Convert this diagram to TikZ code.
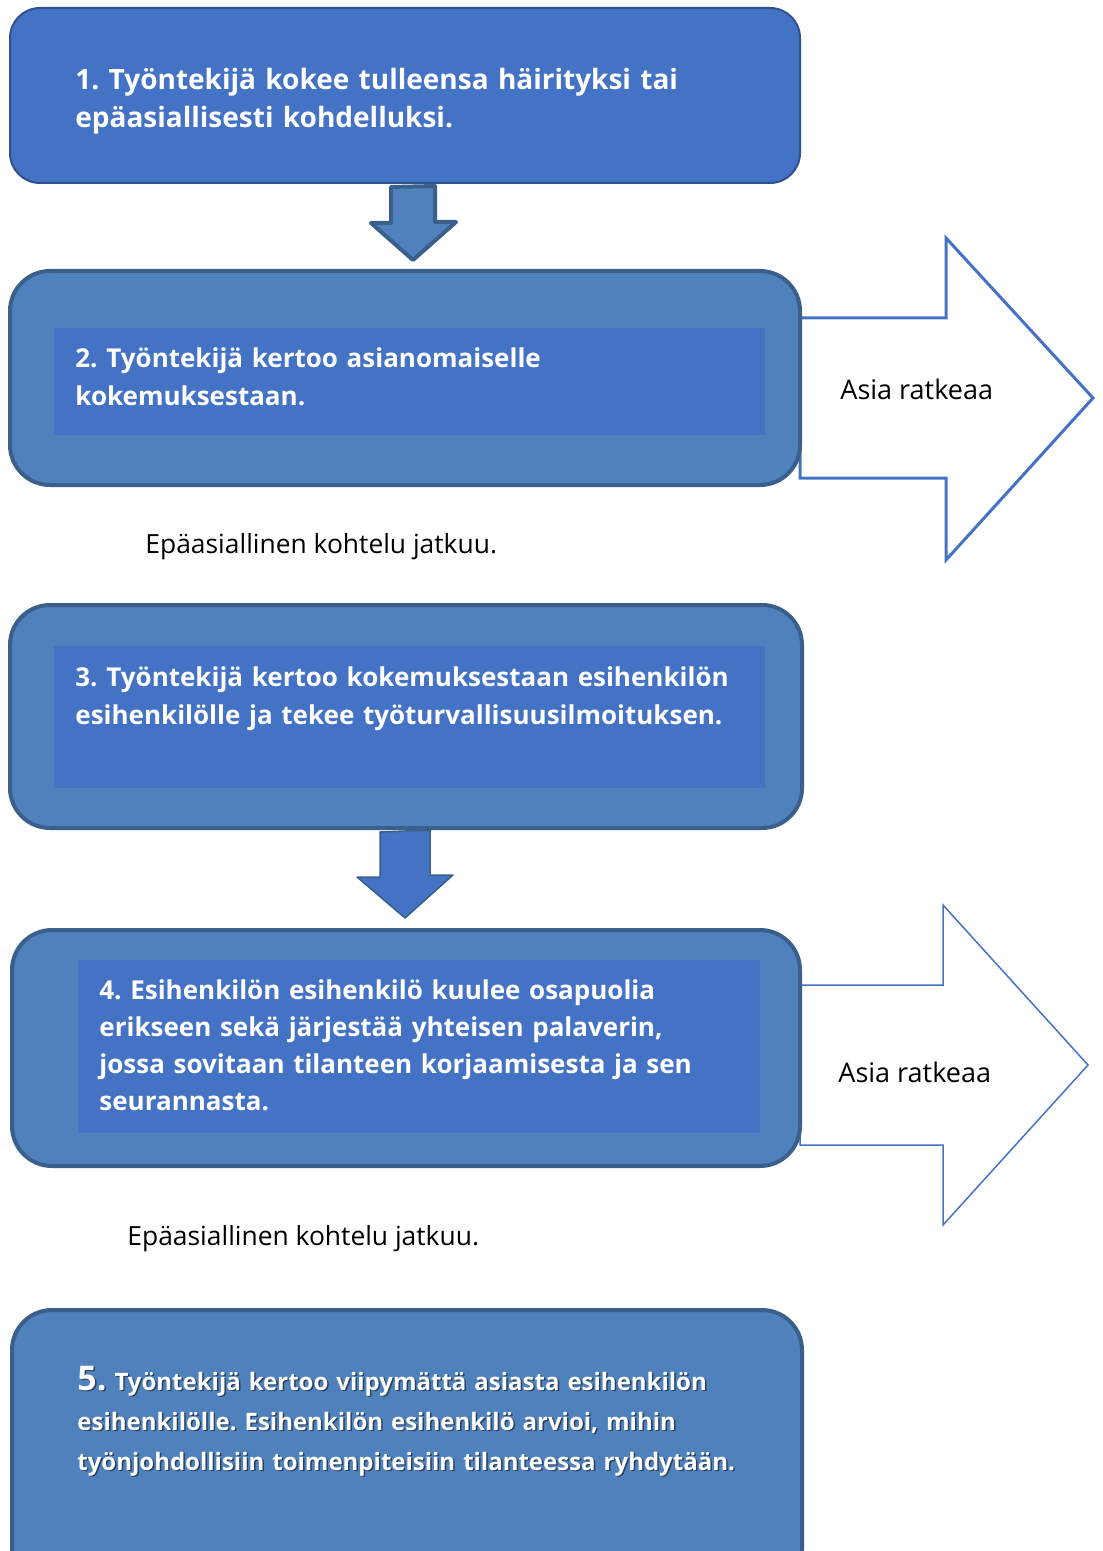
\documentclass[tikz,border=0pt]{standalone}
\usepackage{fontspec}
\setmainfont{Open Sans}
\usepackage{xcolor}
\usetikzlibrary{positioning}
\frenchspacing
\hyphenpenalty=10000
\definecolor{boxblue}{HTML}{4472C4}
\definecolor{outerblue}{HTML}{4F81BD}
\definecolor{edgeblue}{HTML}{3A5F8B}
\definecolor{darkedge}{HTML}{2F528F}
\newcommand{\stepfivetext}{{\fontsize{17}{20}\selectfont 5.} Työntekijä kertoo viipymättä asiasta esihenkilön\\ esihenkilölle. Esihenkilön esihenkilö arvioi, mihin\\ työnjohdollisiin toimenpiteisiin tilanteessa ryhdytään.}

\begin{document}
\begin{tikzpicture}[x=0.5pt,y=-0.5pt,
            outer/.style={shape=rectangle, draw=edgeblue, line width=2pt, fill=outerblue, rounded corners=20pt, inner sep=0pt},
            inner/.style={shape=rectangle, fill=boxblue, inner sep=0pt},
            steptext/.style={anchor=base west, inner sep=0pt, text=white, align=left, text width=420pt,
              font=\bfseries\fontsize{13}{19}\selectfont},
            plain/.style={anchor=base west, inner sep=0pt, font=\fontsize{13.5}{16}\selectfont},
            downarrow/.style={draw=edgeblue, line width=2pt, line join=round, fill=outerblue},
            rightarrow/.style={draw=boxblue, line width=1.5pt, fill=white}]
				\useasboundingbox (0,0) rectangle (1102,1551);

				% arrows to the right
				\draw[rightarrow] (800,318) -- (946,318) -- (946,238) -- (1093,398) -- (946,560) -- (946,478) -- (800,478) -- cycle;
				\draw[rightarrow, line width=0.75pt] (800,985) -- (943,985) -- (943,905) -- (1088,1065) -- (943,1225) -- (943,1145) -- (800,1145) -- cycle;
				\node[plain] (solve1) at (840,400) {Asia ratkeaa};
				\node[plain] (solve2) at (838,1082) {Asia ratkeaa};

				% boxes
				\node[outer, fill=boxblue, draw=darkedge, line width=1pt, rounded corners=15pt,
				      minimum width=395pt, minimum height=87.5pt] (box1) at (405,95.5) {};
				\node[outer, minimum width=395pt, minimum height=107pt] (box2) at (405,378) {};
				\node[inner, minimum width=355.5pt, minimum height=53.5pt] (in2) at (409.5,381.5) {};
				\node[outer, minimum width=396pt, minimum height=111.5pt] (box3) at (406,716.5) {};
				\node[inner, minimum width=355.5pt, minimum height=71pt] (in3) at (409.5,717) {};
				\node[outer, minimum width=394pt, minimum height=118pt] (box4) at (406,1048) {};
				\node[inner, minimum width=341pt, minimum height=86.5pt] (in4) at (419,1046.5) {};
				\node[outer, minimum width=395pt, minimum height=140pt] (box5) at (407,1450) {};

				% down arrows
				\coordinate (tip1) at (413,260);
				\coordinate (tip2) at (405,918);
				\draw[downarrow] (box1.south -| tip1) ++(-22,3) -- ++(0,36) -- ++(-20,0) -- (tip1) -- ++(43,-38) -- ++(-21,0) -- ++(0,-36) -- cycle;
				\draw[downarrow, line width=0.75pt, fill=boxblue] (box3.south -| tip2) ++(-25,2) -- ++(0,45) -- ++(-23,0) -- (tip2) -- ++(48,-43) -- ++(-23,0) -- ++(0,-45) -- cycle;

				% texts
				\node[steptext, font=\bfseries\fontsize{14}{19}\selectfont] (t1) at (75,90) {1. Työntekijä kokee tulleensa häirityksi tai\\ epäasiallisesti kohdelluksi.};
				\node[steptext] (t2) at (75,367) {2. Työntekijä kertoo asianomaiselle\\ kokemuksestaan.};
				\node[steptext] (t3) at (75,686) {3. Työntekijä kertoo kokemuksestaan esihenkilön\\ esihenkilölle ja tekee työturvallisuusilmoituksen.};
				\node[steptext, font=\bfseries\fontsize{13}{18.5}\selectfont] (t4) at (99,999) {4. Esihenkilön esihenkilö kuulee osapuolia\\ erikseen sekä järjestää yhteisen palaverin,\\ jossa sovitaan tilanteen korjaamisesta ja sen\\ seurannasta.};
				\node[steptext, text=black, opacity=0.5, font=\bfseries\fontsize{12}{20}\selectfont] (t5shadow) at (78.5,1391.5) {\stepfivetext};
				\node[steptext, font=\bfseries\fontsize{12}{20}\selectfont] (t5) at (77,1390) {\stepfivetext};
				\node[plain, font=\fontsize{13.2}{16}\selectfont] (cont1) at (145,553) {Epäasiallinen kohtelu jatkuu.};
				\node[plain, font=\fontsize{13.2}{16}\selectfont] (cont2) at (127,1245) {Epäasiallinen kohtelu jatkuu.};
 		\end{tikzpicture}
\end{document}
